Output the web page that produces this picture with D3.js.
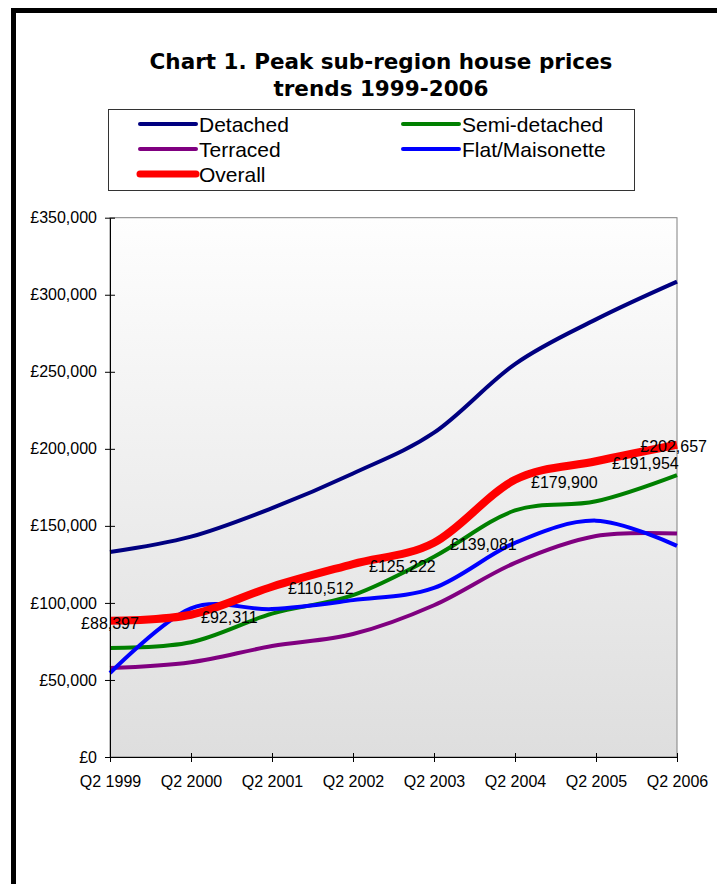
<!DOCTYPE html>
<html>
<head>
<meta charset="utf-8">
<script src="https://cdn.jsdelivr.net/npm/d3@7"></script>
<style>
  body { margin: 0; background: #fff; }
  svg { display: block; }
</style>
</head>
<body>
<script>
// quarters on the x axis, one value per year
const quarters = ["Q2 1999", "Q2 2000", "Q2 2001", "Q2 2002", "Q2 2003", "Q2 2004", "Q2 2005", "Q2 2006"];
const detached = [133000, 143000, 161500, 184000, 210500, 255000, 284000, 308500];
const semiDetached = [70700, 74500, 93000, 105000, 130000, 160000, 166000, 183000];
const terraced = [57700, 61500, 72000, 79800, 98500, 126000, 143400, 145000];
const flat = [54500, 96500, 96000, 101800, 109700, 139000, 153400, 137000];
const overall = [88397, 92311, 110512, 125222, 139081, 179900, 191954, 202657];
const yTicks = [0, 50000, 100000, 150000, 200000, 250000, 300000, 350000];

const series = [
  { name: "Detached", values: detached, color: "#000080", width: 4 },
  { name: "Semi-detached", values: semiDetached, color: "#008000", width: 4 },
  { name: "Terraced", values: terraced, color: "#800080", width: 4 },
  { name: "Flat/Maisonette", values: flat, color: "#0000ff", width: 4 },
  { name: "Overall", values: overall, color: "#ff0000", width: 8 }
];

const w = 717, h = 884;
const plotLeft = 110, plotRight = 677, plotTop = 217.7, plotBottom = 757;

const svg = d3.select("body").append("svg")
  .attr("width", w)
  .attr("height", h);

// outer black frame (only left and top show)
svg.append("rect")
  .attr("x", 13.5).attr("y", 10.5)
  .attr("width", w + 20).attr("height", h + 20)
  .attr("fill", "none")
  .attr("stroke", "#000")
  .attr("stroke-width", 5);

// title
const title = svg.append("text")
  .attr("text-anchor", "middle")
  .style("font-family", "'DejaVu Sans', Verdana, sans-serif")
  .style("font-weight", "bold")
  .style("font-size", "21.5px")
  .attr("fill", "#000");
title.append("tspan").attr("x", 381).attr("y", 69).text("Chart 1. Peak sub-region house prices");
title.append("tspan").attr("x", 381).attr("y", 96).text("trends 1999-2006");

// legend
const legend = svg.append("g").attr("id", "legend");
legend.append("rect")
  .attr("x", 108.5).attr("y", 109.5)
  .attr("width", 526).attr("height", 81)
  .attr("fill", "#fff")
  .attr("stroke", "#333")
  .attr("stroke-width", 1);

const legendItems = legend.selectAll("g.item")
  .data(series)
  .enter()
  .append("g")
  .attr("class", "item")
  .attr("transform", (d, i) => "translate(" + (i % 2 === 0 ? 140 : 403) + "," + (124 + Math.floor(i / 2) * 25) + ")");

legendItems.append("line")
  .attr("x1", 0).attr("x2", 56)
  .attr("y1", 0).attr("y2", 0)
  .attr("stroke", d => d.color)
  .attr("stroke-width", d => d.width === 8 ? 7 : 4)
  .attr("stroke-linecap", "round");

legendItems.append("text")
  .attr("x", 59)
  .attr("y", 0)
  .attr("dy", "0.36em")
  .style("font-family", "'Liberation Sans', Arial, sans-serif")
  .style("font-size", "21px")
  .text(d => d.name);

// scales
const x = d3.scalePoint().domain(quarters).range([plotLeft, plotRight]);
const y = d3.scaleLinear().domain([0, 350000]).range([plotBottom, plotTop]);

// plot background gradient
const defs = svg.append("defs");
const grad = defs.append("linearGradient")
  .attr("id", "plotBg")
  .attr("x1", 0).attr("y1", 0).attr("x2", 0).attr("y2", 1);
grad.append("stop").attr("offset", "0%").attr("stop-color", "#fefefe");
grad.append("stop").attr("offset", "100%").attr("stop-color", "#dedede");

svg.append("rect")
  .attr("x", plotLeft).attr("y", plotTop)
  .attr("width", plotRight - plotLeft).attr("height", plotBottom - plotTop)
  .attr("fill", "url(#plotBg)")
  .attr("stroke", "#808080")
  .attr("stroke-width", 1);

// lines
const line = d3.line()
  .x((d, i) => x(quarters[i]))
  .y(d => y(d))
  .curve(d3.curveCardinal.tension(0));

svg.append("g")
  .selectAll("path")
  .data(series)
  .enter()
  .append("path")
  .attr("d", d => line(d.values))
  .attr("fill", "none")
  .attr("stroke", d => d.color)
  .attr("stroke-width", d => d.width)
  .attr("stroke-linejoin", "round");

// data labels on overall line
const fmt = v => "£" + d3.format(",")(v);
svg.append("g")
  .selectAll("text")
  .data(overall)
  .enter()
  .append("text")
  .attr("x", (d, i) => {
    if (i === 0) return x(quarters[i]);
    if (i === overall.length - 1) return x(quarters[i]) + 30;
    return x(quarters[i]) + (i === 1 ? 10 : 16);
  })
  .attr("y", d => y(d) + 2)
  .attr("dy", "0.36em")
  .attr("text-anchor", (d, i) => i === 0 ? "middle" : (i === overall.length - 1 ? "end" : "start"))
  .style("font-family", "'Liberation Sans', Arial, sans-serif")
  .style("font-size", "16px")
  .attr("fill", "#000")
  .text(fmt);

// axes
const yAxis = d3.axisLeft(y)
  .tickValues(yTicks)
  .tickFormat(fmt)
  .tickSizeInner(5)
  .tickSizeOuter(0)
  .tickPadding(8);

const gy = svg.append("g")
  .attr("transform", "translate(" + plotLeft + ",0)")
  .call(yAxis);
gy.selectAll(".tick line").attr("x2", 5).attr("x1", -5);

const xAxis = d3.axisBottom(x)
  .tickSizeInner(5)
  .tickSizeOuter(0)
  .tickPadding(14);

const gx = svg.append("g")
  .attr("transform", "translate(0," + plotBottom + ")")
  .call(xAxis);
gx.selectAll(".tick line").attr("y1", -4).attr("y2", 5);

[gx, gy].forEach(g => {
  g.select(".domain").attr("stroke", "#000");
  g.selectAll(".tick line").attr("stroke", "#000");
  g.selectAll(".tick text")
    .style("font-family", "'Liberation Sans', Arial, sans-serif")
    .style("font-size", "16px")
    .attr("fill", "#000");
});
gy.selectAll(".tick text").attr("x", -13);
</script>
</body>
</html>
